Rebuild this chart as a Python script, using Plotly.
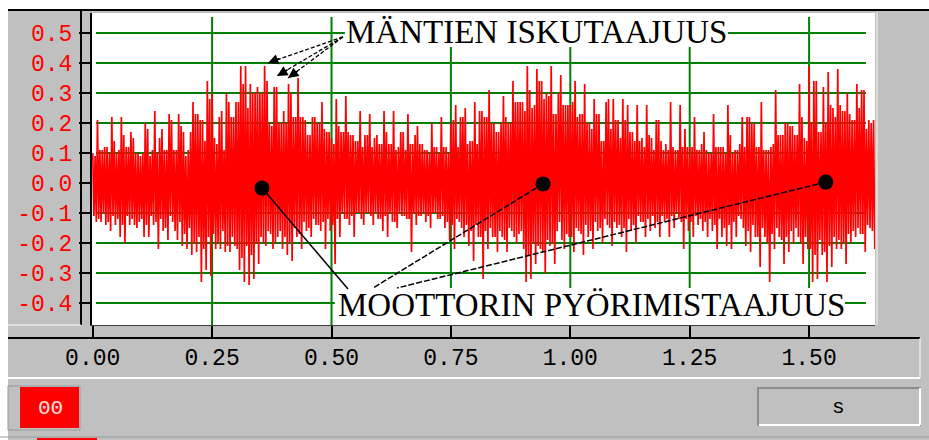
import plotly.graph_objects as go

W, H = 929, 440

# ---- vibration record, sampled in 10 ms slots ----
# each slot holds a main positive peak, a secondary negative swing,
# a secondary positive swing and a main negative peak
t_slots = [round(i * 0.01, 2) for i in range(164)]

pos_peaks = [
    0.10, 0.21, 0.11, 0.12, 0.22, 0.10, 0.22, 0.12, 0.17, 0.10,
    0.09, 0.20, 0.09, 0.24, 0.15, 0.11, 0.23, 0.11, 0.23, 0.17,
    0.11, 0.27, 0.23, 0.21, 0.34, 0.30, 0.13, 0.24, 0.30, 0.22,
    0.27, 0.39, 0.39, 0.33, 0.30, 0.30, 0.39, 0.20, 0.32, 0.20,
    0.24, 0.33, 0.22, 0.35, 0.22, 0.16, 0.22, 0.20, 0.27, 0.17,
    0.15, 0.28, 0.17, 0.29, 0.16, 0.14, 0.24, 0.16, 0.23, 0.15,
    0.13, 0.24, 0.13, 0.24, 0.12, 0.17, 0.23, 0.13, 0.19, 0.13,
    0.11, 0.20, 0.12, 0.22, 0.12, 0.20, 0.26, 0.22, 0.25, 0.14,
    0.27, 0.24, 0.22, 0.31, 0.20, 0.17, 0.29, 0.20, 0.34, 0.27,
    0.27, 0.39, 0.25, 0.38, 0.34, 0.30, 0.39, 0.23, 0.36, 0.26,
    0.26, 0.34, 0.23, 0.33, 0.20, 0.28, 0.23, 0.14, 0.28, 0.28,
    0.21, 0.28, 0.26, 0.17, 0.26, 0.15, 0.26, 0.15, 0.21, 0.14,
    0.13, 0.27, 0.11, 0.26, 0.18, 0.12, 0.22, 0.11, 0.17, 0.10,
    0.23, 0.12, 0.12, 0.26, 0.10, 0.11, 0.22, 0.22, 0.20, 0.12,
    0.27, 0.11, 0.12, 0.31, 0.16, 0.20, 0.19, 0.16, 0.33, 0.15,
    0.39, 0.34, 0.17, 0.32, 0.37, 0.25, 0.38, 0.24, 0.30, 0.21,
    0.33, 0.31, 0.18, 0.20,
]

neg_peaks = [
    -0.13, -0.13, -0.14, -0.16, -0.14, -0.18, -0.20, -0.14, -0.14, -0.13,
    -0.18, -0.18, -0.14, -0.22, -0.16, -0.19, -0.13, -0.19, -0.21, -0.22,
    -0.24, -0.23, -0.33, -0.29, -0.31, -0.22, -0.22, -0.23, -0.23, -0.21,
    -0.29, -0.33, -0.34, -0.32, -0.27, -0.20, -0.16, -0.22, -0.18, -0.22,
    -0.24, -0.26, -0.18, -0.22, -0.16, -0.18, -0.14, -0.16, -0.22, -0.16,
    -0.27, -0.18, -0.12, -0.14, -0.18, -0.10, -0.14, -0.10, -0.14, -0.12,
    -0.16, -0.18, -0.13, -0.15, -0.11, -0.12, -0.23, -0.14, -0.11, -0.13,
    -0.15, -0.10, -0.12, -0.15, -0.19, -0.22, -0.13, -0.18, -0.21, -0.26,
    -0.18, -0.32, -0.22, -0.18, -0.23, -0.18, -0.23, -0.16, -0.20, -0.16,
    -0.33, -0.32, -0.27, -0.22, -0.30, -0.21, -0.27, -0.13, -0.22, -0.18,
    -0.23, -0.16, -0.24, -0.18, -0.22, -0.16, -0.20, -0.14, -0.21, -0.15,
    -0.18, -0.23, -0.16, -0.20, -0.13, -0.18, -0.16, -0.15, -0.18, -0.13,
    -0.18, -0.15, -0.12, -0.22, -0.16, -0.18, -0.14, -0.16, -0.18, -0.16,
    -0.22, -0.18, -0.21, -0.22, -0.18, -0.12, -0.21, -0.23, -0.18, -0.28,
    -0.18, -0.33, -0.22, -0.18, -0.27, -0.23, -0.20, -0.18, -0.27, -0.22,
    -0.33, -0.32, -0.24, -0.33, -0.28, -0.22, -0.22, -0.27, -0.20, -0.18,
    -0.17, -0.23, -0.15, -0.22,
]

pos_swing = [
    0.09, 0.11, 0.12, 0.10, 0.14, 0.11, 0.16, 0.12, 0.15, 0.10,
    0.10, 0.18, 0.11, 0.10, 0.18, 0.11, 0.21, 0.11, 0.19, 0.09,
    0.17, 0.23, 0.21, 0.14, 0.28, 0.15, 0.22, 0.11, 0.27, 0.22,
    0.27, 0.33, 0.25, 0.30, 0.32, 0.30, 0.34, 0.19, 0.32, 0.20,
    0.20, 0.30, 0.22, 0.22, 0.21, 0.16, 0.22, 0.20, 0.18, 0.17,
    0.13, 0.19, 0.17, 0.17, 0.16, 0.14, 0.12, 0.16, 0.12, 0.16,
    0.13, 0.17, 0.13, 0.11, 0.17, 0.11, 0.13, 0.16, 0.13, 0.11,
    0.10, 0.12, 0.10, 0.12, 0.10, 0.21, 0.12, 0.22, 0.13, 0.14,
    0.13, 0.24, 0.22, 0.20, 0.17, 0.20, 0.22, 0.20, 0.27, 0.27,
    0.24, 0.31, 0.26, 0.34, 0.28, 0.29, 0.23, 0.30, 0.26, 0.26,
    0.27, 0.22, 0.23, 0.20, 0.18, 0.23, 0.14, 0.27, 0.18, 0.21,
    0.15, 0.21, 0.17, 0.14, 0.14, 0.12, 0.16, 0.11, 0.21, 0.11,
    0.11, 0.12, 0.11, 0.12, 0.12, 0.12, 0.11, 0.13, 0.11, 0.10,
    0.12, 0.12, 0.10, 0.16, 0.11, 0.13, 0.12, 0.22, 0.20, 0.12,
    0.11, 0.11, 0.13, 0.16, 0.16, 0.20, 0.19, 0.16, 0.22, 0.14,
    0.20, 0.34, 0.17, 0.20, 0.26, 0.22, 0.26, 0.24, 0.23, 0.21,
    0.25, 0.31, 0.21, 0.21,
]

neg_swing = [
    -0.11, -0.12, -0.10, -0.13, -0.11, -0.12, -0.14, -0.11, -0.12, -0.15,
    -0.12, -0.14, -0.11, -0.13, -0.12, -0.15, -0.11, -0.16, -0.13, -0.17,
    -0.15, -0.20, -0.18, -0.22, -0.18, -0.17, -0.20, -0.16, -0.21, -0.18,
    -0.22, -0.25, -0.21, -0.24, -0.20, -0.18, -0.21, -0.17, -0.20, -0.16,
    -0.18, -0.20, -0.15, -0.17, -0.13, -0.15, -0.12, -0.14, -0.13, -0.12,
    -0.14, -0.12, -0.10, -0.12, -0.11, -0.10, -0.12, -0.10, -0.11, -0.10,
    -0.12, -0.11, -0.10, -0.13, -0.10, -0.11, -0.12, -0.10, -0.11, -0.10,
    -0.11, -0.10, -0.12, -0.11, -0.13, -0.14, -0.12, -0.15, -0.14, -0.16,
    -0.14, -0.18, -0.16, -0.15, -0.18, -0.16, -0.19, -0.15, -0.18, -0.17,
    -0.22, -0.24, -0.20, -0.21, -0.23, -0.19, -0.20, -0.16, -0.19, -0.17,
    -0.18, -0.15, -0.17, -0.14, -0.16, -0.13, -0.15, -0.12, -0.15, -0.13,
    -0.14, -0.15, -0.12, -0.14, -0.11, -0.13, -0.12, -0.11, -0.13, -0.11,
    -0.12, -0.11, -0.10, -0.13, -0.12, -0.13, -0.11, -0.12, -0.13, -0.12,
    -0.14, -0.12, -0.15, -0.14, -0.13, -0.11, -0.15, -0.16, -0.14, -0.18,
    -0.15, -0.20, -0.17, -0.15, -0.19, -0.18, -0.16, -0.15, -0.20, -0.18,
    -0.22, -0.24, -0.19, -0.23, -0.21, -0.18, -0.19, -0.20, -0.17, -0.16,
    -0.15, -0.17, -0.14, -0.16,
]

# engine rotation markers
dot_t = [0.3545, 0.943, 1.535]
dot_v = [-0.017, -0.003, 0.003]

x_ticks = [0.00, 0.25, 0.50, 0.75, 1.00, 1.25, 1.50]
x_labels = ["0.00", "0.25", "0.50", "0.75", "1.00", "1.25", "1.50"]
y_ticks = [0.5, 0.4, 0.3, 0.2, 0.1, 0.0, -0.1, -0.2, -0.3, -0.4]
y_labels = ["0.5", "0.4", "0.3", "0.2", "0.1", "0.0", "-0.1", "-0.2", "-0.3", "-0.4"]

RED = "#ff0000"
GREEN = "#008000"
GREY = "#c0c0c0"
MONO = "Liberation Mono"
SERIF = "Liberation Serif"

X0, X1 = -0.0015, 1.638
Y0, Y1 = -0.4733, 0.5667


def px(x):
    return x / W


def py(y):
    return 1 - y / H


sig_x, sig_y = [], []
for t, a, b, c, d in zip(t_slots, pos_peaks, neg_swing, pos_swing, neg_peaks):
    sig_x += [t, t + 0.0025, t + 0.005, t + 0.0075]
    sig_y += [a, b, c, d]

fig = go.Figure()
fig.add_trace(go.Scatter(
    x=sig_x, y=sig_y, mode="lines", line=dict(color=RED, width=1.7)))
fig.add_trace(go.Scatter(
    x=dot_t, y=dot_v, mode="markers",
    marker=dict(color="black", size=15, line=dict(width=0))))

shapes = []
# window frame
shapes.append(dict(type="rect", xref="paper", yref="paper", x0=0, x1=1,
                   y0=py(9), y1=1, fillcolor="white", line_width=0, layer="below"))
shapes.append(dict(type="rect", xref="paper", yref="paper", x0=0, x1=px(8),
                   y0=0, y1=1, fillcolor="white", line_width=0, layer="below"))
shapes.append(dict(type="line", xref="paper", yref="paper", x0=px(8), x1=1,
                   y0=py(10), y1=py(10), line=dict(color="black", width=2)))
shapes.append(dict(type="line", xref="paper", yref="paper", x0=px(81), x1=px(81),
                   y0=py(10), y1=py(325), line=dict(color="black", width=2)))
shapes.append(dict(type="line", xref="paper", yref="paper", x0=px(8), x1=px(81),
                   y0=py(325), y1=py(325), line=dict(color="white", width=1)))
shapes.append(dict(type="line", xref="paper", yref="paper", x0=px(8), x1=px(920),
                   y0=py(338), y1=py(338), line=dict(color="black", width=2)))
shapes.append(dict(type="line", xref="paper", yref="paper", x0=px(920), x1=px(920),
                   y0=py(338), y1=py(378), line=dict(color="white", width=1)))
shapes.append(dict(type="line", xref="paper", yref="paper", x0=px(8), x1=px(920),
                   y0=py(378), y1=py(378), line=dict(color="white", width=2)))
shapes.append(dict(type="rect", xref="paper", yref="paper", x0=px(876), x1=px(878),
                   y0=py(325), y1=py(12), fillcolor="#dcdcdc", line_width=0))
# status boxes
shapes.append(dict(type="rect", xref="paper", yref="paper", x0=px(8), x1=px(80),
                   y0=py(430), y1=py(386), fillcolor=GREY,
                   line=dict(color="#9a9a9a", width=1)))
shapes.append(dict(type="rect", xref="paper", yref="paper", x0=px(20), x1=px(79),
                   y0=py(428), y1=py(387), fillcolor=RED, line_width=0))
shapes.append(dict(type="rect", xref="paper", yref="paper", x0=px(758), x1=px(920),
                   y0=py(425), y1=py(388), fillcolor=GREY,
                   line=dict(color="#8c8c8c", width=2)))
shapes.append(dict(type="line", xref="paper", yref="paper", x0=px(759), x1=px(920),
                   y0=py(425), y1=py(425), line=dict(color="white", width=2)))
shapes.append(dict(type="line", xref="paper", yref="paper", x0=px(920), x1=px(920),
                   y0=py(425), y1=py(388), line=dict(color="white", width=2)))
shapes.append(dict(type="line", xref="paper", yref="paper", x0=0, x1=1,
                   y0=py(437), y1=py(437), line=dict(color="#9a9a9a", width=1)))
shapes.append(dict(type="rect", xref="paper", yref="paper", x0=px(37), x1=px(97),
                   y0=0, y1=py(438), fillcolor=RED, line_width=0))

# green grid
for v in y_ticks:
    shapes.append(dict(type="line", xref="x", yref="y", x0=0.007, x1=1.619,
                       y0=v, y1=v, line=dict(color=GREEN, width=2), layer="below"))
for t in x_ticks[1:]:
    shapes.append(dict(type="line", xref="x", yref="y", x0=t, x1=t,
                       y0=0.553, y1=Y0, line=dict(color=GREEN, width=2), layer="below"))

# white label boxes
shapes.append(dict(type="rect", xref="x", yref="y", x0=0.528, x1=1.330,
                   y0=0.453, y1=0.553, fillcolor="white", line_width=0, layer="above"))
shapes.append(dict(type="rect", xref="x", yref="y", x0=0.507, x1=1.575,
                   y0=Y0, y1=-0.35, fillcolor="white", line_width=0, layer="above"))

# leader lines from rotation markers
leaders = [((0.3545, -0.017), (0.5345, -0.353), "solid"),
           ((0.943, -0.003), (0.5869, -0.35), "dash"),
           ((1.535, 0.003), (0.6371, -0.35), "dash")]
for (xa, ya), (xb, yb), d in leaders:
    shapes.append(dict(type="line", xref="x", yref="y", x0=xa, y0=ya, x1=xb, y1=yb,
                       line=dict(color="black", width=1.5,
                                 dash="6px,2px" if d == "dash" else "solid"),
                       layer="above"))

# dashed shafts of the piston arrows
tail = (0.524, 0.487)
heads = [(0.367, 0.40, 13, -5), (0.386, 0.357, 12, -7), (0.409, 0.35, 11, -8)]
for hx, hy, _, _ in heads:
    shapes.append(dict(type="line", xref="x", yref="y", x0=tail[0], y0=tail[1],
                       x1=hx, y1=hy, line=dict(color="black", width=1.3, dash="4px,2px"),
                       layer="above"))

annotations = []
for hx, hy, ax, ay in heads:
    annotations.append(dict(x=hx, y=hy, xref="x", yref="y", text="", showarrow=True,
                            ax=ax, ay=ay, arrowhead=2, arrowsize=1.3, arrowwidth=1.6,
                            arrowcolor="black"))
annotations.append(dict(x=0.527, y=0.505, xref="x", yref="y", text="MÄNTIEN ISKUTAAJUUS",
                        showarrow=False, xanchor="left", yanchor="middle",
                        font=dict(family=SERIF, size=33, color="black")))
annotations.append(dict(x=0.510, y=-0.408, xref="x", yref="y",
                        text="MOOTTORIN PYÖRIMISTAAJUUS",
                        showarrow=False, xanchor="left", yanchor="middle",
                        font=dict(family=SERIF, size=33, color="black")))
annotations.append(dict(x=px(50), y=py(408), xref="paper", yref="paper", text="00",
                        showarrow=False, xanchor="center", yanchor="middle",
                        font=dict(family=MONO, size=21, color="#ffe0e0")))
annotations.append(dict(x=px(838), y=py(407), xref="paper", yref="paper", text="s",
                        showarrow=False, xanchor="center", yanchor="middle",
                        font=dict(family=MONO, size=21, color="black")))

fig.update_layout(
    width=W, height=H, margin=dict(l=0, r=0, t=0, b=0, autoexpand=False),
    paper_bgcolor=GREY, plot_bgcolor="white", showlegend=False,
    shapes=shapes, annotations=annotations,
    xaxis=dict(domain=[px(92), px(875)], range=[X0, X1], automargin=False,
               tickvals=x_ticks, ticktext=x_labels,
               ticks="outside", ticklen=13, tickwidth=2, tickcolor="black",
               ticklabelstandoff=-2,
               tickfont=dict(family=MONO, size=23, color="black"),
               showgrid=False, zeroline=False,
               showline=True, linecolor="#404040", linewidth=1),
    yaxis=dict(domain=[py(325), py(13)], range=[Y0, Y1], automargin=False,
               tickvals=y_ticks, ticktext=y_labels,
               ticks="outside", ticklen=11, tickwidth=2, tickcolor="black",
               ticklabelstandoff=2,
               tickfont=dict(family=MONO, size=23, color=RED),
               showgrid=False, zeroline=False,
               showline=True, linecolor="black", linewidth=2),
)

fig.write_html("out.html")
